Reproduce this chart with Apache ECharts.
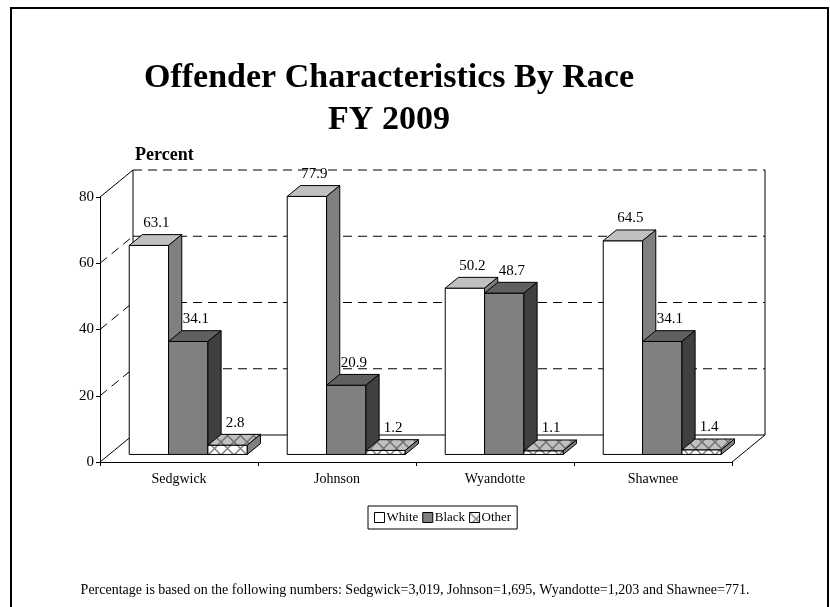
<!DOCTYPE html>
<html>
<head>
<meta charset="utf-8">
<script src="https://cdn.jsdelivr.net/npm/echarts@6/dist/echarts.min.js"></script>
<style>
  html, body { margin: 0; padding: 0; background: #fff; }
  #chart { width: 830px; height: 607px; }
</style>
</head>
<body>
<div id="chart"></div>
<script>
// data
const counties = ['Sedgwick', 'Johnson', 'Wyandotte', 'Shawnee']
const whitePct = [63.1, 77.9, 50.2, 64.5]
const blackPct = [34.1, 20.9, 48.7, 34.1]
const otherPct = [2.8, 1.2, 1.1, 1.4]
const yTicks = [0, 20, 40, 60, 80]
const footNote = 'Percentage is based on the following numbers: Sedgwick=3,019, Johnson=1,695, Wyandotte=1,203 and Shawnee=771.'

const FONT = '"Liberation Serif", "Times New Roman", serif'
// fake 3d depth (pixels), bars sit between F0 and F1 of it
const DX = 33
const DY = 27
const F0 = 0.28
const F1 = 0.68
const BAR_RATIO = 0.249

const makePattern = (bg, line) => {
  const c = document.createElement('canvas')
  c.width = 13
  c.height = 13
  const ctx = c.getContext('2d')
  ctx.fillStyle = bg
  ctx.fillRect(0, 0, 13, 13)
  ctx.strokeStyle = line
  ctx.lineWidth = 1.5
  ctx.beginPath()
  ctx.moveTo(0, 0); ctx.lineTo(13, 13)
  ctx.moveTo(13, 0); ctx.lineTo(0, 13)
  ctx.stroke()
  return { image: c, repeat: 'repeat' }
}

const styles = [
  { front: '#ffffff', top: '#c0c0c0', side: '#808080' },
  { front: '#808080', top: '#606060', side: '#404040' },
  { front: makePattern('#ffffff', '#808080'), top: makePattern('#c0c0c0', '#707070'), side: '#808080' }
]

const renderBar = (s) => (params, api) => {
  const idx = api.value(0)
  const val = api.value(1)
  const catW = api.size([1, 0])[0]
  const bw = catW * BAR_RATIO
  const base = api.coord([idx, 0])
  const top = api.coord([idx, val])
  const x0 = base[0] - 1.5 * bw + s * bw + F0 * DX
  const yb = base[1] - F0 * DY
  const yt = top[1] - F0 * DY
  const ddx = (F1 - F0) * DX
  const ddy = (F1 - F0) * DY
  const st = styles[s]
  const line = { stroke: '#000', lineWidth: 1 }
  return {
    type: 'group',
    children: [
      { type: 'rect', shape: { x: x0, y: yt, width: bw, height: yb - yt }, style: Object.assign({ fill: st.front }, line) },
      { type: 'polygon', shape: { points: [[x0, yt], [x0 + ddx, yt - ddy], [x0 + bw + ddx, yt - ddy], [x0 + bw, yt]] }, style: Object.assign({ fill: st.top }, line) },
      { type: 'polygon', shape: { points: [[x0 + bw, yt], [x0 + bw + ddx, yt - ddy], [x0 + bw + ddx, yb - ddy], [x0 + bw, yb]] }, style: Object.assign({ fill: st.side }, line) },
      {
        type: 'text',
        style: {
          x: x0 + bw / 2 + ddx / 2 + 1,
          y: yt - ddy - 4,
          text: val.toFixed(1),
          align: 'center',
          verticalAlign: 'bottom',
          font: '15px ' + FONT,
          fill: '#000'
        }
      }
    ]
  }
}

const renderWalls = (params, api) => {
  const cs = params.coordSys
  const v = api.value(1)
  const y = api.coord([0, v])[1]
  const gx = cs.x
  const gr = cs.x + cs.width
  const solid = { stroke: '#000', lineWidth: 1 }
  const dashed = { stroke: '#000', lineWidth: 1, lineDash: [9, 6] }
  const edge = v === yTicks[0] || v === yTicks[yTicks.length - 1]
  const children = [
    { type: 'line', shape: { x1: gx, y1: y, x2: gx + DX, y2: y - DY }, style: edge ? solid : dashed },
    { type: 'line', shape: { x1: gx + DX, y1: y - DY, x2: gr + DX, y2: y - DY }, style: v === 0 ? solid : dashed }
  ]
  if (v === 0) {
    const yTop = api.coord([0, yTicks[yTicks.length - 1]])[1]
    children.push(
      { type: 'line', shape: { x1: gr, y1: y, x2: gr + DX, y2: y - DY }, style: solid },
      { type: 'line', shape: { x1: gx + DX, y1: y - DY, x2: gx + DX, y2: yTop - DY }, style: solid },
      { type: 'line', shape: { x1: gr + DX, y1: y - DY, x2: gr + DX, y2: yTop - DY }, style: solid }
    )
  }
  return { type: 'group', children }
}

const chart = echarts.init(document.getElementById('chart'))
chart.setOption({
  backgroundColor: '#fff',
  animation: false,
  textStyle: { fontFamily: FONT },
  title: [
    {
      text: 'Offender Characteristics By Race\nFY 2009',
      left: 384,
      textAlign: 'center',
      top: 52,
      textStyle: { fontSize: 34, fontWeight: 'bold', fontFamily: FONT, color: '#000', lineHeight: 42 }
    },
    {
      text: footNote,
      left: 'center',
      top: 578,
      textStyle: { fontSize: 14, fontWeight: 'normal', fontFamily: FONT, color: '#000' }
    }
  ],
  graphic: [
    { type: 'rect', shape: { x: 11, y: 8, width: 817, height: 640 }, style: { fill: 'none', stroke: '#000', lineWidth: 2 }, silent: true },
    { type: 'text', left: 135, top: 146, style: { text: 'Percent', font: 'bold 18px ' + FONT, fill: '#000' } }
  ],
  legend: {
    data: [
      { name: 'White', itemStyle: { color: '#fff', borderColor: '#000', borderWidth: 1 } },
      { name: 'Black', itemStyle: { color: '#808080', borderColor: '#000', borderWidth: 1 } },
      { name: 'Other', itemStyle: { color: styles[2].front, borderColor: '#000', borderWidth: 1 } }
    ],
    left: 368,
    top: 506,
    icon: 'rect',
    itemWidth: 10,
    itemHeight: 10,
    itemGap: 4,
    padding: [5, 6],
    borderColor: '#000',
    borderWidth: 1,
    textStyle: { fontSize: 13, fontFamily: FONT, color: '#000', padding: [0, 0, 0, -3] }
  },
  grid: { left: 100, top: 197, width: 632, height: 265, containLabel: false },
  xAxis: {
    type: 'category',
    data: counties,
    axisLine: { lineStyle: { color: '#000', width: 1 } },
    axisTick: { show: true, length: 4, lineStyle: { color: '#000' } },
    axisLabel: { color: '#000', fontSize: 14, fontFamily: FONT, margin: 10 },
    splitLine: { show: false }
  },
  yAxis: {
    type: 'value',
    min: 0,
    max: 80,
    interval: 20,
    axisLine: { show: true, lineStyle: { color: '#000', width: 1 } },
    axisTick: { show: true, length: 4, lineStyle: { color: '#000' } },
    axisLabel: { color: '#000', fontSize: 15, fontFamily: FONT, margin: 6 },
    splitLine: { show: false }
  },
  series: [
    { name: 'walls', type: 'custom', z: 1, silent: true, renderItem: renderWalls, data: yTicks.map(v => [0, v]) },
    { name: 'White', type: 'custom', z: 2, renderItem: renderBar(0), itemStyle: { color: '#fff' }, data: whitePct.map((v, i) => [i, v]) },
    { name: 'Black', type: 'custom', z: 2, renderItem: renderBar(1), itemStyle: { color: '#808080' }, data: blackPct.map((v, i) => [i, v]) },
    { name: 'Other', type: 'custom', z: 2, renderItem: renderBar(2), itemStyle: { color: '#c0c0c0' }, data: otherPct.map((v, i) => [i, v]) }
  ]
})
</script>
</body>
</html>
